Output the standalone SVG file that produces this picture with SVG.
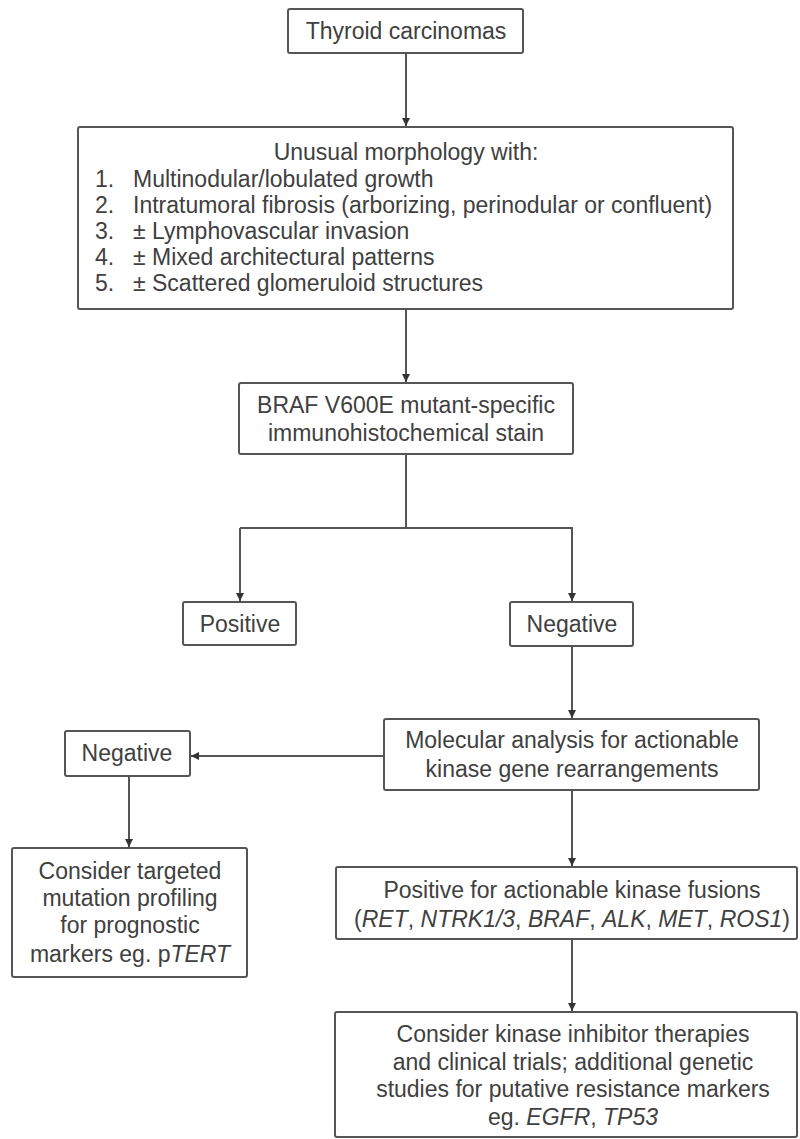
<svg xmlns="http://www.w3.org/2000/svg" width="800" height="1139" viewBox="0 0 800 1139">
<style>
.box{fill:#fff;stroke:#555;stroke-width:2}
.t{font-family:"Liberation Sans",Arial,sans-serif;font-size:23px;fill:#404040}
.c{text-anchor:middle}
.ln{fill:none;stroke:#555;stroke-width:2}
</style>
<defs>
<marker id="ah" markerUnits="userSpaceOnUse" markerWidth="10" markerHeight="10" refX="8" refY="4" orient="auto">
<path d="M0,0 L8,4 L0,8 Z" fill="#333"/>
</marker>
</defs>
<rect width="800" height="1139" fill="#fff"/>
<g id="connectors">
<line class="ln" x1="406" y1="53" x2="406" y2="126" marker-end="url(#ah)"/>
<line class="ln" x1="406" y1="309" x2="406" y2="382" marker-end="url(#ah)"/>
<polyline class="ln" points="406,454 406,528"/>
<polyline class="ln" points="240,528 572,528 572,601" marker-end="url(#ah)"/>
<line class="ln" x1="240" y1="528" x2="240" y2="601" marker-end="url(#ah)"/>
<line class="ln" x1="572" y1="646" x2="572" y2="718" marker-end="url(#ah)"/>
<line class="ln" x1="384" y1="756" x2="191" y2="756" marker-end="url(#ah)"/>
<line class="ln" x1="129" y1="776" x2="129" y2="847" marker-end="url(#ah)"/>
<line class="ln" x1="572" y1="790" x2="572" y2="866" marker-end="url(#ah)"/>
<line class="ln" x1="572" y1="939" x2="572" y2="1011" marker-end="url(#ah)"/>
</g>
<g id="n1">
<rect class="box" x="288" y="9" width="235" height="44" rx="2"/>
<text class="t c" x="406" y="39">Thyroid carcinomas</text>
</g>
<g id="n2">
<rect class="box" x="78" y="127" width="655" height="182" rx="2"/>
<text class="t c" x="406" y="160">Unusual morphology with:</text>
<text class="t" x="95" y="187">1.</text><text class="t" x="133" y="187">Multinodular/lobulated growth</text>
<text class="t" x="95" y="213">2.</text><text class="t" x="133" y="213">Intratumoral fibrosis (arborizing, perinodular or confluent)</text>
<text class="t" x="95" y="239">3.</text><text class="t" x="133" y="239">± Lymphovascular invasion</text>
<text class="t" x="95" y="265">4.</text><text class="t" x="133" y="265">± Mixed architectural patterns</text>
<text class="t" x="95" y="291">5.</text><text class="t" x="133" y="291">± Scattered glomeruloid structures</text>
</g>
<g id="n3">
<rect class="box" x="239" y="383" width="334" height="71" rx="2"/>
<text class="t c" x="406" y="413">BRAF V600E mutant-specific</text>
<text class="t c" x="406" y="441">immunohistochemical stain</text>
</g>
<g id="n4">
<rect class="box" x="183" y="602" width="113" height="43" rx="2"/>
<text class="t c" x="240" y="632">Positive</text>
</g>
<g id="n5">
<rect class="box" x="510" y="602" width="123" height="44" rx="2"/>
<text class="t c" x="572" y="632">Negative</text>
</g>
<g id="n6">
<rect class="box" x="384" y="719" width="375" height="71" rx="2"/>
<text class="t c" x="572" y="748">Molecular analysis for actionable</text>
<text class="t c" x="572" y="777">kinase gene rearrangements</text>
</g>
<g id="n7">
<rect class="box" x="65" y="731" width="125" height="45" rx="2"/>
<text class="t c" x="127" y="761">Negative</text>
</g>
<g id="n8">
<rect class="box" x="12" y="848" width="235" height="129" rx="2"/>
<text class="t c" x="130" y="879">Consider targeted</text>
<text class="t c" x="130" y="906">mutation profiling</text>
<text class="t c" x="130" y="933">for prognostic</text>
<text class="t c" x="130" y="962">markers eg. p<tspan font-style="italic">TERT</tspan></text>
</g>
<g id="n9">
<rect class="box" x="336" y="867" width="461" height="72" rx="2"/>
<text class="t c" x="572" y="898">Positive for actionable kinase fusions</text>
<text class="t c" x="572" y="927">(<tspan font-style="italic">RET</tspan>, <tspan font-style="italic">NTRK1/3</tspan>, <tspan font-style="italic">BRAF</tspan>, <tspan font-style="italic">ALK</tspan>, <tspan font-style="italic">MET</tspan>, <tspan font-style="italic">ROS1</tspan>)</text>
</g>
<g id="n10">
<rect class="box" x="335" y="1012" width="462" height="125" rx="2"/>
<text class="t c" x="573" y="1042">Consider kinase inhibitor therapies</text>
<text class="t c" x="573" y="1070">and clinical trials; additional genetic</text>
<text class="t c" x="573" y="1097">studies for putative resistance markers</text>
<text class="t c" x="573" y="1125">eg. <tspan font-style="italic">EGFR</tspan>, <tspan font-style="italic">TP53</tspan></text>
</g>
</svg>
